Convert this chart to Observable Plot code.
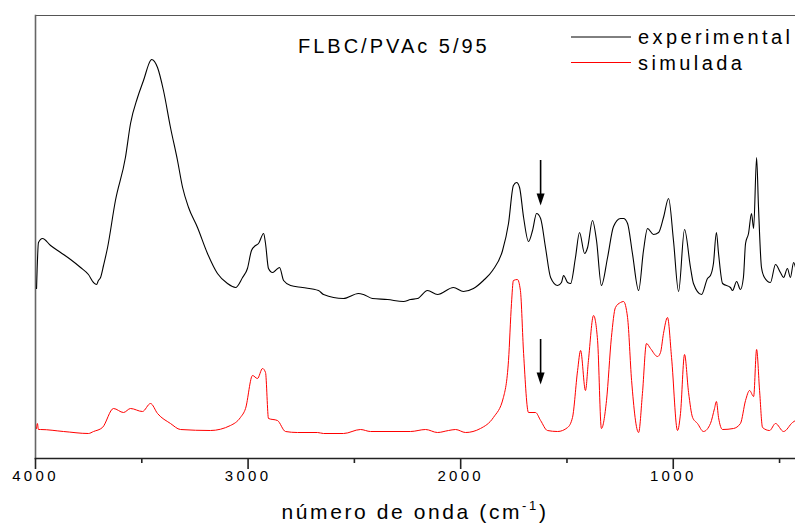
<!DOCTYPE html>
<html><head><meta charset="utf-8">
<script src="https://cdn.jsdelivr.net/npm/d3@7"></script>
<script src="https://cdn.jsdelivr.net/npm/@observablehq/plot@0.6"></script>
<style>body{margin:0;background:#fff}</style>
</head><body><div id="chart"></div>
<script>
// Experimental spectrum (wavenumber cm-1, intensity a.u.)
const expWn = [3995,3986,3967,3929,3882,3835,3788,3751,3727,3713,3704,3694,3680,3661,3624,3577,3553,3520,3492,3459,3454,3426,3398,3365,3332,3308,3280,3238,3191,3144,3097,3059,3026,3003,2984,2965,2951,2927,2918,2904,2885,2871,2852,2833,2800,2744,2669,2645,2551,2481,2457,2415,2344,2269,2236,2203,2156,2109,2034,1987,1940,1893,1850,1803,1775,1752,1737,1723,1704,1681,1662,1643,1624,1601,1577,1544,1526,1516,1497,1483,1460,1441,1417,1403,1380,1361,1338,1309,1281,1248,1234,1215,1192,1163,1140,1121,1093,1069,1046,1022,999,975,947,919,905,867,839,825,811,797,787,768,731,721,702,684,670,660,646,632,622,608,599,585,571,543,519,496,481,463,449,434,425];
const expAbs = [170,216,220,213,206,199,191,184,176,174,178,181,193,211,258,301,335,361,378,398,399,391,368,331,298,271,251,231,205,185,175,171,181,190,208,213,215,225,215,190,186,188,191,178,173,171,168,164,160,165,164,160,159,157,159,160,168,164,171,167,170,178,188,208,235,273,276,271,241,217,228,245,240,211,181,173,176,183,176,175,201,226,205,211,238,218,173,201,232,240,240,235,205,168,208,230,224,226,241,260,218,167,229,191,175,164,180,183,195,226,205,175,171,168,177,169,181,215,225,245,230,301,251,191,181,176,194,186,181,190,181,196,191];
// Simulated spectrum
const simWn = [3995,3991,3986,3976,3868,3751,3727,3685,3633,3586,3553,3497,3459,3426,3365,3318,3177,3083,3036,3012,2979,2956,2932,2918,2904,2862,2824,2768,2673,2645,2551,2471,2424,2236,2165,2109,2057,2024,1977,1907,1846,1799,1775,1761,1752,1733,1719,1704,1681,1648,1624,1592,1544,1497,1474,1450,1436,1413,1399,1375,1356,1338,1314,1291,1272,1248,1234,1215,1196,1163,1145,1126,1107,1074,1060,1046,1027,1008,980,966,947,928,909,886,858,825,806,797,787,768,717,684,660,641,622,608,594,580,547,519,481,439,425];
const simAbs = [30,35,29,29,27,25,27,31,50,46,50,47,55,45,35,29,28,33,41,50,83,80,90,86,40,38,27,26,26,25,25,29,27,27,29,26,28,29,26,30,41,61,98,155,178,179,168,105,46,46,38,28,27,31,41,88,108,68,98,143,118,30,58,121,151,156,157,141,78,26,65,115,110,102,106,125,141,101,28,45,104,66,41,35,27,35,50,57,41,29,30,35,58,68,62,109,68,31,28,35,27,36,38];

const majorTicks = [4000, 3000, 2000, 1000];
const minorTicks = [3500, 2500, 1500, 500];
// arrow annotations (x in cm-1, y start/end in a.u.)
const arrowWn = [1624, 1624];
const arrowFrom = [298, 119];
const arrowTo = [253, 74];
const titleText = "FLBC/PVAc 5/95";
const seriesNames = ["experimental", "simulada"];
const seriesColors = ["#000000", "#ff0000"];
const xLabelMain = "número de onda (cm";
const xLabelSup = "-1";

const expData = expWn.map((x, i) => ({x, y: expAbs[i]}));
const simData = simWn.map((x, i) => ({x, y: simAbs[i]}));
const arrows = arrowWn.map((x, i) => ({x, y1: arrowFrom[i], y2: arrowTo[i]}));

const downHead = {
  draw(ctx) {
    ctx.moveTo(0, 0);
    ctx.lineTo(-4, -12);
    ctx.lineTo(4, -12);
    ctx.closePath();
  }
};

const font = "Arial, 'Liberation Sans', Helvetica, sans-serif";

const svg = Plot.plot({
  width: 795, height: 526,
  marginLeft: 35, marginRight: 0, marginTop: 15, marginBottom: 68,
  x: {domain: [4000, 425], axis: null},
  y: {domain: [0, 443], axis: null},
  style: {fontFamily: font, background: "#fff", color: "#000"},
  marks: [
    Plot.frame({anchor: "top", stroke: "#555", strokeWidth: 1}),
    Plot.frame({anchor: "left", stroke: "#666", strokeWidth: 1.6}),
    Plot.frame({anchor: "bottom", stroke: "#222", strokeWidth: 1.6}),
    Plot.axisX(majorTicks, {anchor: "bottom", tickSize: 11, tickPadding: 1, fontSize: 15, strokeWidth: 1.6, stroke: "#222", tickFormat: d => String(d), label: null}),
    Plot.axisX(minorTicks, {anchor: "bottom", tickSize: 5, strokeWidth: 1.6, stroke: "#222", tickFormat: () => "", label: null}),
    Plot.line(expData, {x: "x", y: "y", stroke: seriesColors[0], strokeWidth: 1.1, curve: "monotone-x"}),
    Plot.line(simData, {x: "x", y: "y", stroke: seriesColors[1], strokeWidth: 1, curve: "monotone-x"}),
    Plot.ruleX(arrows, {x: "x", y1: "y1", y2: d => d.y2 + 3, stroke: "#000", strokeWidth: 1.6}),
    Plot.dot(arrows, {x: "x", y: "y2", symbol: downHead, fill: "#000", stroke: "none"})
  ]
});

const s = d3.select(svg);
s.selectAll('g[aria-label="x-axis tick label"]').attr("letter-spacing", "3.3px");

// title
s.append("text").attr("x", 298).attr("y", 53).attr("font-size", 20)
  .attr("text-anchor", "start").attr("letter-spacing", "3px").attr("fill", "#000").text(titleText);

// legend
seriesNames.forEach((name, i) => {
  const yy = 37 + i * 25.5;
  s.append("line").attr("x1", 571).attr("x2", 631).attr("y1", yy).attr("y2", yy)
    .attr("stroke", seriesColors[i]).attr("stroke-width", 1);
  s.append("text").attr("x", 638).attr("y", yy + 7.3).attr("font-size", 20)
    .attr("text-anchor", "start").attr("letter-spacing", "3.4px").attr("fill", "#000").text(name);
});

// x label
const lab = s.append("text").attr("x", 415).attr("y", 519).attr("font-size", 21)
  .attr("text-anchor", "middle").attr("letter-spacing", "2.6px").attr("fill", "#000");
lab.append("tspan").text(xLabelMain);
lab.append("tspan").attr("dy", -9).attr("font-size", 13).text(xLabelSup);
lab.append("tspan").attr("dy", 9).text(")");

document.getElementById("chart").appendChild(svg);
</script>
</body></html>
